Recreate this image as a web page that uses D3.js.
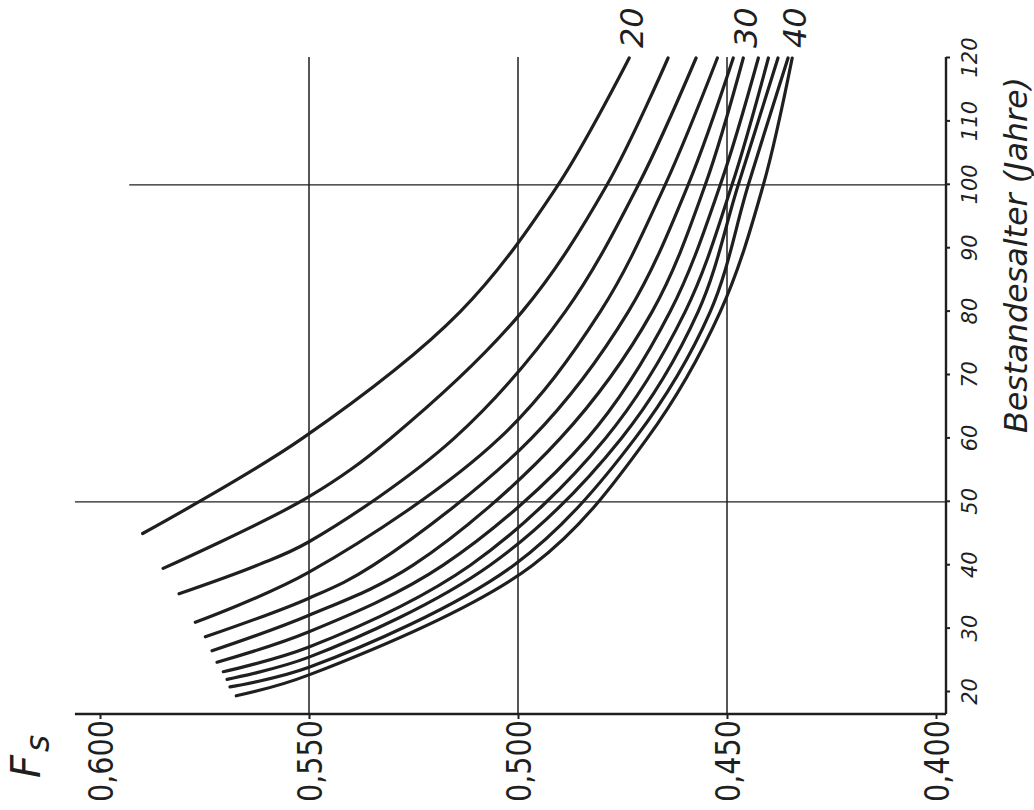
<!DOCTYPE html>
<html>
<head>
<meta charset="utf-8">
<script src="https://cdn.jsdelivr.net/npm/d3@7"></script>
<style>
  html, body { margin: 0; padding: 0; background: #fff; }
  svg { display: block; }
</style>
</head>
<body>
<svg id="chart" width="1034" height="810"></svg>
<script>
// Form factor F_S over stand age, one curve per site class (20 ... 40).
const siteClasses = [20, 22, 24, 26, 28, 30, 32, 34, 36, 38, 40];
const labelledClasses = [20, 30, 40];
const ageTicks = [20, 30, 40, 50, 60, 70, 80, 90, 100, 110, 120];
const fsTicks = [0.600, 0.550, 0.500, 0.450, 0.400];
const ageGridLines = [50, 100];
const ageGridFrom = [0.606, 0.593];   // F_S value where each age line begins
const fsGridLines = [0.550, 0.500, 0.450];

// first point of every curve (age, F_S)
const startAge  = [45.0, 39.5, 35.5, 31.0, 28.7, 26.5, 24.7, 23.2, 22.0, 20.8, 19.4];
const fsAtStart = [0.5898, 0.5849, 0.5811, 0.5772, 0.5748, 0.5732, 0.5720, 0.5705, 0.5696, 0.5689, 0.5674];
// age at which each curve reaches F_S = 0,550
const ageAt550  = [null, 50.8, 43.7, 38.9, 34.8, 32.1, 29.5, 27.1, 25.5, 23.9, 22.7];
// F_S at fixed ages
const fsAt40  = [null, null, 0.5624, null, 0.5346, 0.5251, 0.5179, 0.5114, 0.5067, 0.5010, 0.4965];
const fsAt60  = [0.5516, 0.5305, 0.5153, 0.5045, 0.4968, 0.4899, 0.4834, 0.4791, 0.4753, 0.4720, 0.4691];
const fsAt80  = [0.5138, 0.4990, 0.4887, 0.4803, 0.4736, 0.4679, 0.4636, 0.4600, 0.4569, 0.4540, 0.4516];
const fsAt100 = [0.4904, 0.4787, 0.4712, 0.4648, 0.4593, 0.4552, 0.4516, 0.4488, 0.4473, 0.4449, 0.4413];
const fsAt120 = [0.4734, 0.4641, 0.4574, 0.4523, 0.4485, 0.4461, 0.4425, 0.4401, 0.4378, 0.4354, 0.4344];

const fixedAges = [40, 60, 80, 100, 120];
const fixedSeries = [fsAt40, fsAt60, fsAt80, fsAt100, fsAt120];

const curves = siteClasses.map((sc, i) => {
  const pts = [[startAge[i], fsAtStart[i]]];
  if (ageAt550[i] != null) pts.push([ageAt550[i], 0.550]);
  fixedAges.forEach((a, k) => {
    const v = fixedSeries[k][i];
    if (v != null && a > startAge[i]) pts.push([a, v]);
  });
  pts.sort((a, b) => a[0] - b[0]);
  return { sc, pts };
});

const svg = d3.select("#chart");
const H = 810;

// The chart is laid out normally (age along x, F_S along y) and then turned
// a quarter turn counter-clockwise.
const g = svg.append("g").attr("transform", `translate(0,${H}) rotate(-90)`);

const age = d3.scaleLinear().domain([20, 120]).range([118, 752]);
const fs  = d3.scaleLinear().domain([0.400, 0.600]).range([936, 100]);

const ageAxisPos = 946;            // local y of the age axis
const fsAxisPos  = 96;             // local x of the F_S axis
const ageEnd = 753;
const fsTop = fs(0.606);

const ink = "#1f1f1f";
const font = "'DejaVu Sans', sans-serif";

// grid
g.append("g").selectAll("line").data(fsGridLines).join("line")
  .attr("x1", fsAxisPos).attr("x2", ageEnd)
  .attr("y1", d => fs(d)).attr("y2", d => fs(d))
  .attr("stroke", ink).attr("stroke-width", 1.5);

g.append("g").selectAll("line").data(ageGridLines).join("line")
  .attr("x1", d => age(d)).attr("x2", d => age(d))
  .attr("y1", (d, i) => fs(ageGridFrom[i])).attr("y2", ageAxisPos)
  .attr("stroke", ink).attr("stroke-width", 1.3);

// axis lines
g.append("line")
  .attr("x1", fsAxisPos).attr("x2", ageEnd)
  .attr("y1", ageAxisPos).attr("y2", ageAxisPos)
  .attr("stroke", ink).attr("stroke-width", 2.4);
g.append("line")
  .attr("x1", fsAxisPos).attr("x2", fsAxisPos)
  .attr("y1", fsTop).attr("y2", ageAxisPos)
  .attr("stroke", ink).attr("stroke-width", 2.4);

// age axis
const ageAxis = g.append("g")
  .attr("transform", `translate(0,${ageAxisPos})`)
  .call(d3.axisBottom(age).tickValues(ageTicks).tickSize(4).tickSizeOuter(0).tickFormat(d3.format("d")));
ageAxis.select(".domain").remove();
ageAxis.selectAll(".tick line").attr("stroke", ink).attr("stroke-width", 2);
ageAxis.selectAll(".tick text")
  .attr("y", 23).attr("dy", "0.36em")
  .attr("fill", ink)
  .style("font-family", font)
  .style("font-size", "21px")
  .style("font-style", "italic");

// F_S axis
const comma = d3.formatLocale({ decimal: ",", thousands: ".", grouping: [3], currency: ["", ""] });
const fsAxis = g.append("g")
  .attr("transform", `translate(${fsAxisPos},0)`)
  .call(d3.axisLeft(fs).tickValues(fsTicks).tickSize(5).tickSizeOuter(0).tickFormat(comma.format(".3f")));
fsAxis.select(".domain").remove();
fsAxis.selectAll(".tick line").attr("stroke", ink).attr("stroke-width", 2);
fsAxis.selectAll(".tick text")
  .attr("x", -6).attr("dy", "0.36em")
  .attr("fill", ink)
  .attr("textLength", 82).attr("lengthAdjust", "spacingAndGlyphs")
  .style("font-family", font)
  .style("font-size", "34px");

// axis titles
g.append("text")
  .attr("x", 555).attr("y", 1027)
  .attr("text-anchor", "middle")
  .attr("textLength", 356).attr("lengthAdjust", "spacingAndGlyphs")
  .attr("fill", ink)
  .style("font-family", font)
  .style("font-size", "32px")
  .style("font-style", "italic")
  .text("Bestandesalter (Jahre)");

const fsTitle = g.append("text")
  .attr("x", 32).attr("y", 40)
  .attr("fill", ink)
  .style("font-family", font)
  .style("font-style", "italic");
fsTitle.append("tspan").style("font-size", "40px").text("F");
fsTitle.append("tspan").attr("dx", 3).attr("dy", 9).style("font-size", "33px").text("s");

// curves
const line = d3.line()
  .x(d => age(d[0]))
  .y(d => fs(d[1]))
  .curve(d3.curveCatmullRom.alpha(0.5));

g.append("g").selectAll("path").data(curves).join("path")
  .attr("d", d => line(d.pts))
  .attr("fill", "none")
  .attr("stroke", ink)
  .attr("stroke-width", 3.2)
  .attr("stroke-linecap", "round");

// curve labels beyond age 120
g.append("g").selectAll("text")
  .data(curves.filter(c => labelledClasses.includes(c.sc)))
  .join("text")
  .attr("x", age(120) + 10)
  .attr("y", d => fs(d.pts[d.pts.length - 1][1]) + 2)
  .attr("dy", "0.36em")
  .attr("fill", ink)
  .style("font-family", font)
  .style("font-size", "32px")
  .style("font-style", "italic")
  .text(d => d.sc);
</script>
</body>
</html>
